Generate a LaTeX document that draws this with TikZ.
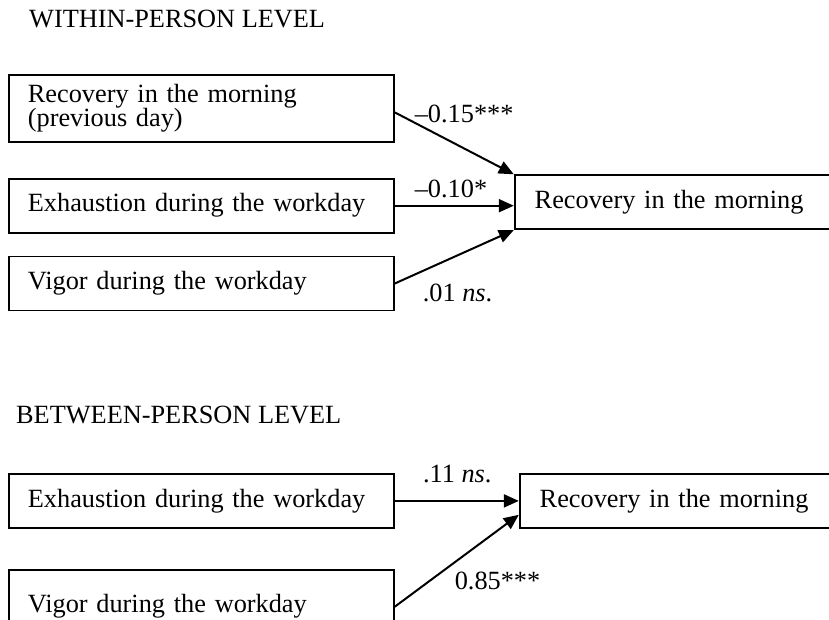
\documentclass[tikz,border=0pt]{standalone}
\usepackage{fontspec}
\setmainfont{Liberation Serif}
\usetikzlibrary{positioning,arrows.meta}
\newcommand\diagfont{\fontsize{26.3}{24}\selectfont}
\tikzset{
    varbox/.style={rectangle, draw=black, line width=1.8pt, minimum height=54pt, inner xsep=19pt, inner ysep=0pt, text width=347pt, align=left, font=\diagfont},
    outbox/.style={varbox, inner xsep=20pt, text width=300pt},
    arr/.style={line width=2pt, -{Triangle[length=15pt,width=13pt]}},
}

\begin{document}
\begin{tikzpicture}[
        x=1pt, y=-1pt,
        % titel der ebenen
        leveltitle/.style={inner sep=0pt, anchor=base west, font=\diagfont},
        % pfadkoeffizienten
        coef/.style={inner sep=0pt, anchor=base west, font=\diagfont}
    ]
    \clip[use as bounding box] (0,0) rectangle (829,620);

    % --- WITHIN ---
    \node[leveltitle] (titleW) at (29,28) {WITHIN-PERSON LEVEL};

    \node[varbox, minimum height=67pt, anchor=north west] (rec1) at (8,74) {Recovery in the morning\\(previous day)};
    \node[varbox, below=35pt of rec1] (exh) {Exhaustion during the workday};
    \node[varbox, below=22pt of exh] (vig) {Vigor during the workday};
    \node[outbox, right=119pt of exh, yshift=3.5pt] (tgt) {Recovery in the morning};

    \draw[arr] ([yshift=-4pt]rec1.east) -- node[coef, pos=0.16] {--0.15***} (tgt.north west);
    \draw[arr] (exh.east) -- node[coef, pos=0.16, yshift=8.5pt] {--0.10*} (exh.east -| tgt.west);
    \draw[arr] (vig.east) -- node[coef, at start, xshift=27pt, yshift=-18pt] {.01 \textit{ns}.} (tgt.south west);

    % --- BETWEEN ---
    \node[leveltitle] (titleB) at (16,423) {BETWEEN-PERSON LEVEL};

    \node[varbox, anchor=north west] (exhB) at (8,473) {Exhaustion during the workday};
    \node[varbox, minimum height=74pt, below=40pt of exhB] (vigB) {Vigor during the workday};
    \node[outbox, right=124pt of exhB] (tgtB) {Recovery in the morning};

    \draw[arr] (exhB.east) -- node[coef, pos=0.22, yshift=18pt] {.11 \textit{ns}.} (tgtB.west);
    \draw[arr] (vigB.east) -- node[coef, at start, xshift=59pt, yshift=17pt] {0.85***} ([yshift=14pt]tgtB.south west);

\end{tikzpicture}
\end{document}
